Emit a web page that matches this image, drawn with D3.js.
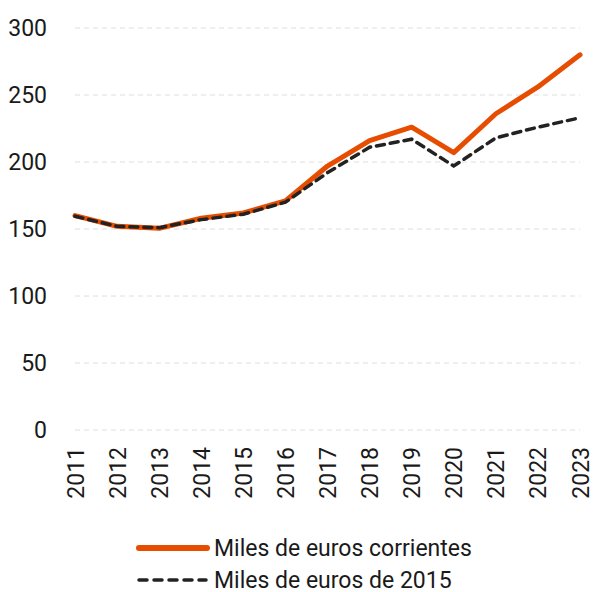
<!DOCTYPE html>
<html>
<head>
<meta charset="utf-8">
<script src="https://cdn.jsdelivr.net/npm/d3@7"></script>
<style>
  body { margin: 0; background: #fff; }
  text { font-family: Roboto, "Liberation Sans", sans-serif; fill: #1a1a1a; }
</style>
</head>
<body>
<div id="chart"></div>
<script>
var years = ["2011", "2012", "2013", "2014", "2015", "2016", "2017", "2018", "2019", "2020", "2021", "2022", "2023"]
var corrientes = [160, 152, 150.5, 158, 162, 171, 197, 216, 226, 207, 236, 256, 280]
var constantes = [159.5, 152, 151, 157, 161, 170, 192, 211, 217, 197, 218, 226, 233]
var yTicks = [0, 50, 100, 150, 200, 250, 300]
var seriesNames = ["Miles de euros corrientes", "Miles de euros de 2015"]

var width = 593, height = 592
var fontSize = "23px"

var svg = d3.select("#chart")
    .append("svg")
    .attr("width", width)
    .attr("height", height)

var x = d3.scalePoint()
    .domain(years)
    .range([75, 580])

var y = d3.scaleLinear()
    .domain([0, 300])
    .range([430, 28])

// grid
svg.append("g")
    .selectAll("line")
    .data(yTicks)
    .enter()
    .append("line")
    .attr("x1", 75)
    .attr("x2", 580)
    .attr("y1", function (d) { return y(d) })
    .attr("y2", function (d) { return y(d) })
    .attr("stroke", "#dedede")
    .attr("stroke-width", 1)
    .attr("stroke-dasharray", "5,4")

// y axis labels
var yAxis = svg.append("g")
    .attr("transform", "translate(47,0)")
    .call(d3.axisLeft(y).tickValues(yTicks).tickSize(0).tickPadding(0))
yAxis.select(".domain").remove()
yAxis.selectAll("text")
    .style("font-size", fontSize)
    .attr("fill", "#1a1a1a")

// x axis labels
var xAxis = svg.append("g")
    .attr("transform", "translate(0,440)")
    .call(d3.axisBottom(x).tickSize(0).tickPadding(0))
xAxis.select(".domain").remove()
xAxis.selectAll("text")
    .style("font-size", fontSize)
    .attr("fill", "#1a1a1a")
    .attr("text-anchor", "end")
    .attr("transform", "rotate(-90)")
    .attr("x", -7)
    .attr("y", 0)
    .attr("dy", "0.35em")

var line = d3.line()
    .x(function (d, i) { return x(years[i]) })
    .y(function (d) { return y(d) })

svg.append("path")
    .datum(corrientes)
    .attr("d", line)
    .attr("fill", "none")
    .attr("stroke", "#e64d00")
    .attr("stroke-width", 5)
    .attr("stroke-linecap", "round")
    .attr("stroke-linejoin", "round")

svg.append("path")
    .datum(constantes)
    .attr("d", line)
    .attr("fill", "none")
    .attr("stroke", "#222")
    .attr("stroke-width", 3.5)
    .attr("stroke-linecap", "round")
    .attr("stroke-dasharray", "8,6")

// legend
var legend = svg.append("g")
legend.append("line")
    .attr("x1", 139).attr("x2", 207)
    .attr("y1", 548).attr("y2", 548)
    .attr("stroke", "#e64d00")
    .attr("stroke-width", 6)
    .attr("stroke-linecap", "round")
legend.append("line")
    .attr("x1", 139).attr("x2", 206)
    .attr("y1", 580).attr("y2", 580)
    .attr("stroke", "#222")
    .attr("stroke-width", 3.5)
    .attr("stroke-linecap", "round")
    .attr("stroke-dasharray", "8,7")
legend.selectAll("text")
    .data(seriesNames)
    .enter()
    .append("text")
    .attr("x", 214)
    .attr("y", function (d, i) { return 548 + i * 32 })
    .attr("dy", "0.35em")
    .style("font-size", fontSize)
    .text(function (d) { return d })
</script>
</body>
</html>
